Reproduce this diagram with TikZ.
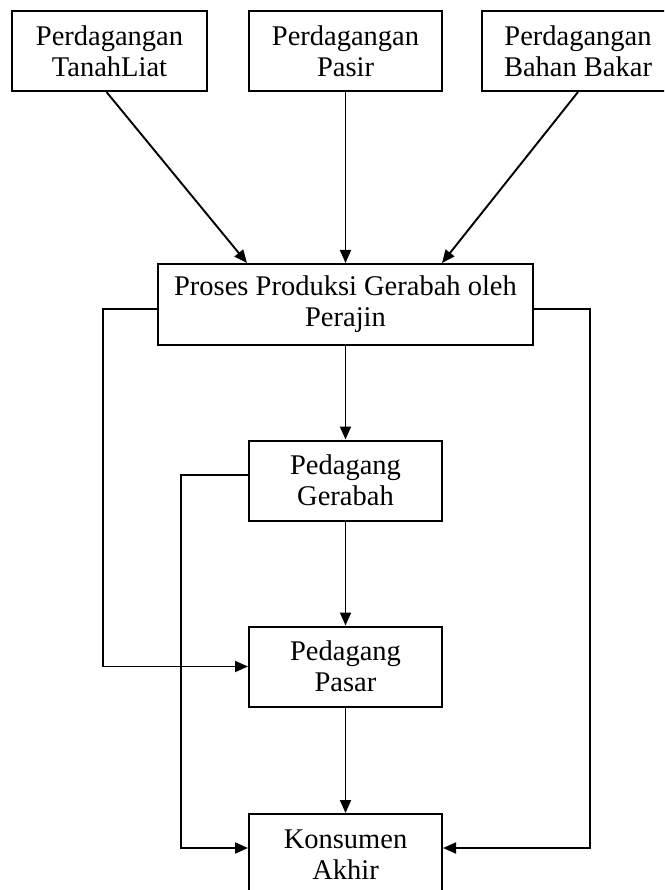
\documentclass[tikz,border=0pt]{standalone}
\usepackage{fontspec}
\setmainfont{Liberation Serif}
\usepackage{tikz}
\usetikzlibrary{positioning,calc,arrows.meta}

\begin{document}
\begin{tikzpicture}[
  x=1pt, y=-1pt,
  box/.style={shape=rectangle, draw, line width=2pt, align=center, inner sep=0pt,
    minimum width=193pt, minimum height=80pt, font=\fontsize{28.5}{31}\selectfont},
  flow/.style={line width=1.9pt, -{Triangle[length=13pt,width=11pt]}}
]
  \useasboundingbox (0,0) rectangle (664,890);
  \clip (0,0) rectangle (664,890);
  % Sources
  \node[box, minimum width=195pt] (tanah) at (109.5,51) {Perdagangan\\TanahLiat};
  \node[box] (pasir) at (345.5,51) {Perdagangan\\Pasir};
  \node[box] (bakar) at (578,51) {Perdagangan\\Bahan Bakar};
  % Production
  \node[box, minimum width=375pt, minimum height=81pt] (proses) at (345.5,304.5)
    {Proses Produksi Gerabah oleh\\Perajin};
  % Trade chain
  \node[box] (gerabah) at (345.5,480.5) {Pedagang\\Gerabah};
  \node[box] (pasar) at (345.5,666.5) {Pedagang\\Pasar};
  \node[box, minimum height=81pt] (konsumen) at (345.5,854.5) {Konsumen\\Akhir};

  \draw[flow] ($(tanah.south)+(-3,0)$) -- ($(proses.north)+(-98.5,0)$);
  \draw[flow] (pasir) -- (proses);
  \draw[flow] (bakar.south) -- ($(proses.north)+(96.5,0)$);
  \draw[flow] (proses) -- (gerabah);
  \draw[flow] (gerabah) -- (pasar);
  \draw[flow] (pasar) -- (konsumen);
  \draw[flow] ($(proses.west)+(0,4.5)$) -- ++(-54,0) |- (pasar.west);
  \draw[flow] ($(proses.east)+(0,4.5)$) -- ++(56,0) |- ($(konsumen.east)+(0,-6.5)$);
  \draw[flow] ($(gerabah.west)+(0,-5.5)$) -- ++(-67,0) |- ($(konsumen.west)+(0,-6.5)$);
\end{tikzpicture}
\end{document}
